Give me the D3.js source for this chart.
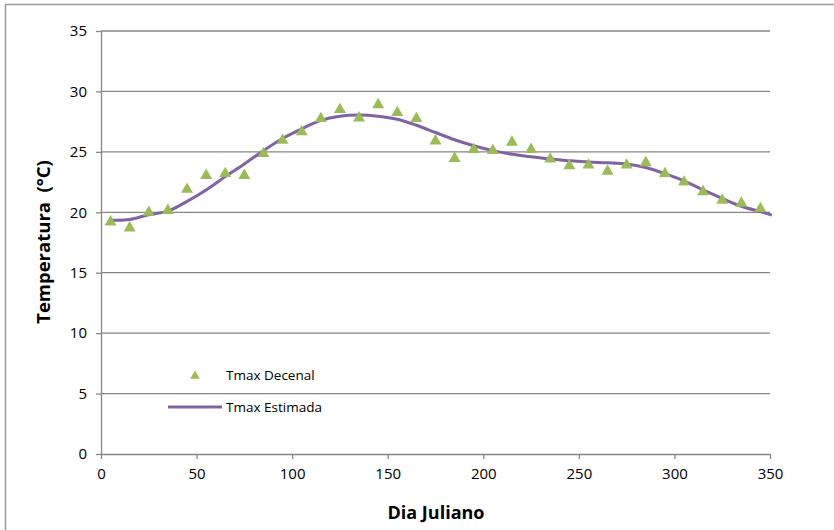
<!DOCTYPE html>
<html>
<head>
<meta charset="utf-8">
<script src="https://cdn.jsdelivr.net/npm/d3@7"></script>
<style>
  body { margin: 0; background: #fff; }
  text { font-family: "Open Sans", "Noto Sans", sans-serif; fill: #000; }
</style>
</head>
<body>
<div id="chart"></div>
<script>
// observed 10-day max temperature
const diasDecenal = [5, 15, 25, 35, 45, 55, 65, 75, 85, 95, 105, 115, 125, 135, 145, 155, 165, 175,
  185, 195, 205, 215, 225, 235, 245, 255, 265, 275, 285, 295, 305, 315, 325, 335, 345];
const tmaxDecenal = [19.2, 18.7, 20.0, 20.15, 21.9, 23.05, 23.2, 23.05, 24.85, 25.95, 26.65, 27.75, 28.5,
  27.8, 28.9, 28.25, 27.75, 25.9, 24.45, 25.2, 25.1, 25.8, 25.2, 24.4, 23.85, 23.9, 23.4, 23.9, 24.1,
  23.2, 22.5, 21.7, 21.0, 20.75, 20.3];

// estimated curve
const diasEstimada = [5, 15, 25, 35, 45, 55, 65, 75, 85, 95, 105, 115, 125, 135, 145, 155, 165, 175,
  185, 195, 205, 215, 225, 235, 245, 255, 265, 275, 285, 295, 305, 315, 325, 335, 345, 351];
const tmaxEstimada = [19.35, 19.4, 19.8, 20.1, 20.9, 21.85, 22.95, 24.0, 25.1, 26.1, 26.9, 27.6, 27.95,
  28.05, 27.95, 27.7, 27.2, 26.6, 26.0, 25.5, 25.1, 24.8, 24.6, 24.4, 24.27, 24.16, 24.1, 24.0, 23.7,
  23.2, 22.6, 21.85, 21.15, 20.5, 20.05, 19.77];

const xTicks = [0, 50, 100, 150, 200, 250, 300, 350];
const yTicks = [0, 5, 10, 15, 20, 25, 30, 35];

const width = 834;
const height = 530;
const margin = {top: 31, right: 64, bottom: 76, left: 101};
const gray = '#868686';

const svg = d3.select('#chart').append('svg')
  .attr('width', width)
  .attr('height', height);

// outer chart frame (right and bottom edges fall off the picture)
svg.append('rect')
  .attr('x', 5.5).attr('y', 4.5)
  .attr('width', width + 10).attr('height', height + 10)
  .attr('fill', 'none')
  .attr('stroke', '#9a9a9a')
  .attr('stroke-width', 1.5);

const x = d3.scaleLinear().domain([0, 350]).range([margin.left, width - margin.right]);
const y = d3.scaleLinear().domain([0, 35]).range([height - margin.bottom, margin.top]);

/* gridlines */
svg.append('g')
  .selectAll('line')
  .data(yTicks.slice(1))
  .enter().append('line')
  .attr('x1', x(0)).attr('x2', x(350))
  .attr('y1', d => y(d)).attr('y2', d => y(d))
  .attr('stroke', gray)
  .attr('stroke-width', 1.3);

/* axes */
const xAxis = d3.axisBottom(x)
  .tickValues(xTicks)
  .tickSizeInner(5)
  .tickSizeOuter(0)
  .tickPadding(9);

const yAxis = d3.axisLeft(y)
  .tickValues(yTicks)
  .tickSizeInner(5)
  .tickSizeOuter(0)
  .tickPadding(9);

function styleAxis(g) {
  g.select('.domain').attr('stroke', gray).attr('stroke-width', 1.3);
  g.selectAll('.tick line').attr('stroke', gray).attr('stroke-width', 1.3);
  g.selectAll('.tick text')
    .attr('fill', '#000')
    .style('font-size', '15px')
    .style('font-family', '"Open Sans", "Noto Sans", sans-serif');
}

svg.append('g')
  .attr('transform', `translate(0, ${y(0)})`)
  .call(xAxis)
  .call(styleAxis);

svg.append('g')
  .attr('transform', `translate(${x(0)}, 0)`)
  .call(yAxis)
  .call(styleAxis);

/* axis titles */
svg.append('text')
  .attr('x', 436)
  .attr('y', 519)
  .attr('text-anchor', 'middle')
  .style('font-size', '18px')
  .style('font-weight', 'bold')
  .text('Dia Juliano');

svg.append('text')
  .attr('transform', 'translate(50, 242) rotate(-90)')
  .attr('text-anchor', 'middle')
  .style('font-size', '18.5px')
  .style('font-weight', 'bold')
  .text('Temperatura\u00a0 (°C)');

/* estimated line */
const line = d3.line()
  .x((d, i) => x(diasEstimada[i]))
  .y(d => y(d))
  .curve(d3.curveCatmullRom);

svg.append('path')
  .attr('d', line(tmaxEstimada))
  .attr('fill', 'none')
  .attr('stroke', '#8064A2')
  .attr('stroke-width', 3);

/* observed triangles */
const tri = d3.symbol().type(d3.symbolTriangle).size(62);

svg.append('g')
  .selectAll('path')
  .data(tmaxDecenal)
  .enter().append('path')
  .attr('d', tri)
  .attr('transform', (d, i) => `translate(${x(diasDecenal[i])}, ${y(d)})`)
  .attr('fill', '#9BBB59');

/* legend */
const legend = svg.append('g');

legend.append('path')
  .attr('d', d3.symbol().type(d3.symbolTriangle).size(40))
  .attr('transform', 'translate(195, 376)')
  .attr('fill', '#9BBB59');

legend.append('text')
  .attr('x', 226).attr('y', 380)
  .style('font-size', '13.5px')
  .text('Tmax Decenal');

legend.append('line')
  .attr('x1', 168).attr('x2', 222)
  .attr('y1', 407).attr('y2', 407)
  .attr('stroke', '#8064A2')
  .attr('stroke-width', 3);

legend.append('text')
  .attr('x', 226).attr('y', 412)
  .style('font-size', '13.5px')
  .text('Tmax Estimada');
</script>
</body>
</html>
